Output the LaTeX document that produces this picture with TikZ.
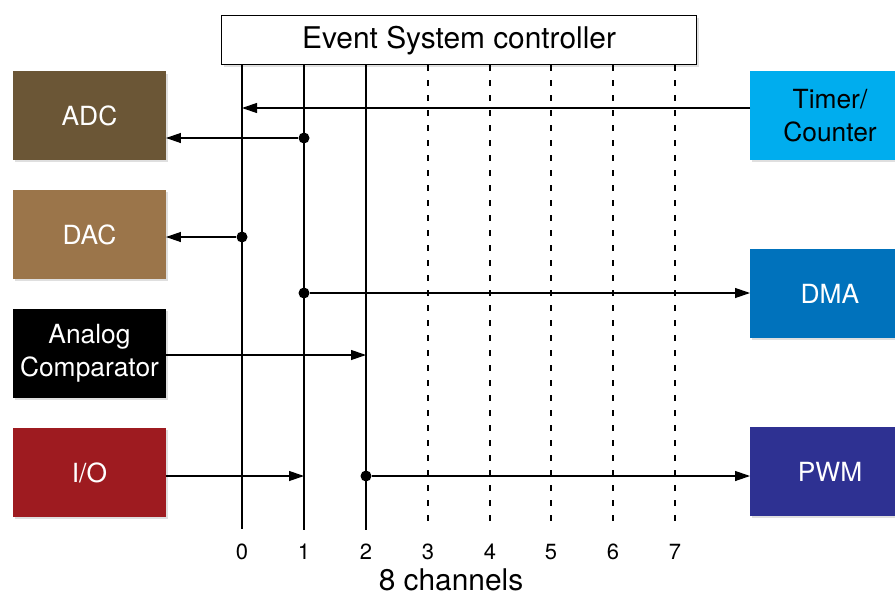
\documentclass[tikz,border=0pt]{standalone}
\usepackage{fontspec}
\setmainfont{TeX Gyre Heros}
\usepackage{xcolor}
\usepackage{tikz}
\usetikzlibrary{positioning}
\usetikzlibrary{shadows}
\usetikzlibrary{arrows.meta}
\definecolor{adcbrown}{RGB}{107,86,54}
\definecolor{dacbrown}{RGB}{155,117,74}
\definecolor{iored}{RGB}{158,27,32}
\definecolor{tcblue}{RGB}{0,173,238}
\definecolor{dmablue}{RGB}{0,114,188}
\definecolor{pwmblue}{RGB}{46,49,146}

\begin{document}
\begin{tikzpicture}[
  x=0.02cm, y=-0.02cm,
  line width=0.7pt,
  >={Triangle[length=0.3cm,width=0.2cm]}
]
\tikzset{
    block/.style = {rectangle, align=center, inner sep=0pt, outer sep=0pt,
      minimum width=3.06cm, minimum height=1.78cm, text=white,
      font=\fontsize{15}{18.5}\selectfont,
      drop shadow={shadow xshift=0.04cm, shadow yshift=-0.05cm, opacity=0.25}},
    rblock/.style = {block, minimum width=3.2cm},
    dot/.style = {circle, fill=black, inner sep=0pt, minimum size=0.22cm},
    chlabel/.style = {inner sep=0pt, font=\fontsize{12.5}{14}\selectfont},
    spare/.style = {dash pattern=on 0.12cm off 0.18cm},
}
\useasboundingbox (0,0) rectangle (895,595);
\clip (0,0) rectangle (895,595);

\node (ctrl) [draw, fill=white, anchor=north west, minimum width=9.5cm, minimum height=0.98cm,
  font=\fontsize{17}{20}\selectfont,
  drop shadow={shadow xshift=0.04cm, shadow yshift=-0.05cm, opacity=0.25}] at (221,15) {Event System controller};

% left blocks
\node (adc) [block, fill=adcbrown, anchor=north west] at (13,71) {ADC};
\node (dac) [block, fill=dacbrown, below=0.6cm of adc] {DAC};
\node (comp) [block, fill=black, below=0.6cm of dac] {Analog\\Comparator};
\node (io) [block, fill=iored, below=0.6cm of comp] {I/O};

% right blocks
\node (tc) [rblock, fill=tcblue, text=black, anchor=north west] at (750,71) {Timer/\\Counter};
\node (dma) [rblock, fill=dmablue, below=1.78cm of tc] {DMA};
\node (pwm) [rblock, fill=pwmblue, below=1.78cm of dma] {PWM};

% channels
\node (n0) [chlabel] at (242,552) {0};
\node (n1) [chlabel] at (304,552) {1};
\node (n2) [chlabel] at (366,552) {2};
\node (n3) [chlabel] at (428,552) {3};
\node (n4) [chlabel] at (490,552) {4};
\node (n5) [chlabel] at (551,552) {5};
\node (n6) [chlabel] at (613,552) {6};
\node (n7) [chlabel] at (675,552) {7};
\draw[shorten >=0.28cm] (ctrl.south -| n0) -- (n0.north);
\draw[shorten >=0.28cm] (ctrl.south -| n1) -- (n1.north);
\draw[shorten >=0.28cm] (ctrl.south -| n2) -- (n2.north);
\draw[spare, shorten >=0.28cm] (ctrl.south -| n3) -- (n3.north);
\draw[spare, shorten >=0.28cm] (ctrl.south -| n4) -- (n4.north);
\draw[spare, shorten >=0.28cm] (ctrl.south -| n5) -- (n5.north);
\draw[spare, shorten >=0.28cm] (ctrl.south -| n6) -- (n6.north);
\draw[spare, shorten >=0.28cm] (ctrl.south -| n7) -- (n7.north);
\node (chans) [inner sep=1pt, font=\fontsize{17}{20}\selectfont] at (451,580) {8 channels};

% events
\coordinate (a0) at (242,108);
\draw[->] (tc.west |- a0) -- (a0);
\node (p1) [dot] at (304,138) {};
\draw[->] (p1) -- (adc.east |- p1);
\node (p2) [dot] at (242,237) {};
\draw[->] (p2) -- (dac.east |- p2);
\node (p3) [dot] at (304,293) {};
\draw[->] (p3) -- (dma.west |- p3);
\coordinate (a1) at (366,355);
\draw[->] (comp.east |- a1) -- (a1);
\coordinate (a2) at (304,476);
\draw[->] (io.east |- a2) -- (a2);
\node (p4) [dot] at (366,476) {};
\draw[->] (p4) -- (pwm.west |- p4);

\end{tikzpicture}
\end{document}
